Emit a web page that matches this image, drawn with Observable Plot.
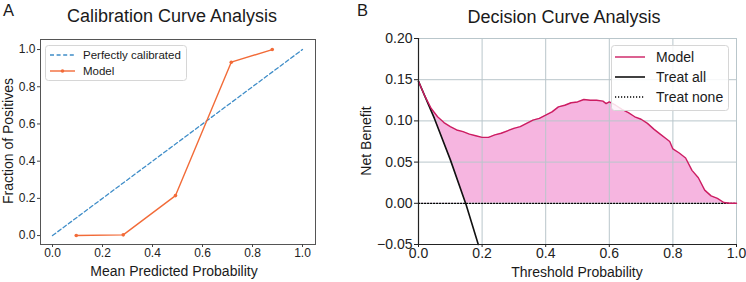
<!DOCTYPE html>
<html><head><meta charset="utf-8">
<script src="https://cdn.jsdelivr.net/npm/d3@7"></script>
<script src="https://cdn.jsdelivr.net/npm/@observablehq/plot@0.6"></script>
<style>
body{margin:0;background:#fff;}
#fig{position:relative;width:746px;height:282px;overflow:hidden;background:#fff;}
#fig svg{position:absolute;top:0;}
</style></head><body><div id="fig"></div>
<script>
// ---------- data ----------
const calibMeanPred = [0.095, 0.283, 0.492, 0.715, 0.879];
const calibFracPos  = [0.000, 0.004, 0.215, 0.932, 1.000];
const perfectX = [0, 1];
const perfectY = [0, 1];

const thresholds = [0.00,0.02,0.04,0.06,0.08,0.10,0.12,0.14,0.16,0.18,0.20,0.22,0.24,0.26,0.28,0.30,0.32,0.34,0.36,0.38,0.40,0.42,0.44,0.46,0.48,0.50,0.52,0.54,0.56,0.58,0.59,0.60,0.62,0.64,0.66,0.68,0.70,0.72,0.74,0.76,0.78,0.79,0.80,0.82,0.84,0.86,0.88,0.90,0.92,0.94,0.96,0.98,1.00];
const modelNB    = [0.148,0.130,0.115,0.105,0.098,0.093,0.089,0.087,0.084,0.082,0.080,0.080,0.083,0.085,0.088,0.091,0.093,0.097,0.101,0.103,0.107,0.111,0.117,0.119,0.122,0.123,0.126,0.125,0.125,0.124,0.121,0.123,0.119,0.114,0.110,0.105,0.102,0.097,0.090,0.084,0.078,0.075,0.066,0.061,0.055,0.040,0.031,0.016,0.009,0.006,0.001,0.000,0.000];
const treatAllT  = [0, 0.05, 0.10, 0.15, 0.188];
const treatAllNB = [0.148, 0.103, 0.053, -0.002, -0.05];
const treatNoneT  = [0, 1];
const treatNoneNB = [0, 0];

const calibTicks = [0, 0.2, 0.4, 0.6, 0.8, 1.0];
const dcaXTicks  = [0, 0.2, 0.4, 0.6, 0.8, 1.0];
const dcaYTicks  = [-0.05, 0, 0.05, 0.10, 0.15, 0.20];

// ---------- tables ----------
const calib   = calibMeanPred.map((x,i)=>({x, y: calibFracPos[i]}));
const perfect = perfectX.map((x,i)=>({x, y: perfectY[i]}));
const model   = thresholds.map((t,i)=>({t, nb: modelNB[i]}));
const treatAll = treatAllT.map((t,i)=>({t, nb: treatAllNB[i]}));
const treatNone = treatNoneT.map((t,i)=>({t, nb: treatNoneNB[i]}));

const FONT = '"Liberation Sans", Arial, Helvetica, sans-serif';
const orange = "#f26b38", blue = "#3f8dc8", crimson = "#cc1d62", pink = "#f6b5e0";
const fig = document.getElementById("fig");

// ---------- panel A ----------
const left = Plot.plot({
  width: 373, height: 282,
  marginLeft: 40, marginRight: 58, marginTop: 39, marginBottom: 38,
  x: {domain: [-0.048, 1.052]},
  y: {domain: [-0.048, 1.054]},
  style: {fontFamily: FONT, fontSize: "12px", color: "#222", background: "transparent", overflow: "visible"},
  marks: [
    Plot.line(perfect, {x: "x", y: "y", stroke: blue, strokeWidth: 1.3, strokeDasharray: "4,2.6"}),
    Plot.line(calib, {x: "x", y: "y", stroke: orange, strokeWidth: 1.4}),
    Plot.dot(calib, {x: "x", y: "y", r: 1.8, fill: orange}),
    Plot.frame({stroke: "#555", strokeWidth: 1}),
    Plot.axisX(calibTicks, {tickSize: 3, tickPadding: 1, tickFormat: d3.format(".1f"), label: null, stroke: "#444"}),
    Plot.axisY(calibTicks, {tickSize: 3, tickPadding: 2, tickFormat: d3.format(".1f"), label: null, stroke: "#444"})
  ]
});
left.style.left = "0px";
fig.appendChild(left);

// ---------- panel B ----------
const right = Plot.plot({
  width: 373, height: 282,
  marginLeft: 45, marginRight: 10, marginTop: 38, marginBottom: 38,
  x: {domain: [0, 1]},
  y: {domain: [-0.05, 0.20]},
  style: {fontFamily: FONT, fontSize: "14px", color: "#222", background: "transparent", overflow: "visible"},
  marks: [
    Plot.areaY(model, {x: "t", y: "nb", fill: pink}),
    Plot.areaY(treatAll.filter(d => d.t <= 0.15), {x: "t", y1: 0, y2: "nb", fill: "white"}),
    Plot.gridX(dcaXTicks, {stroke: "#b9c6cb", strokeOpacity: 1, strokeWidth: 1}),
    Plot.gridY(dcaYTicks, {stroke: "#b9c6cb", strokeOpacity: 1, strokeWidth: 1}),
    Plot.line(treatNone, {x: "t", y: "nb", stroke: "#000", strokeWidth: 1.3, strokeDasharray: "1.2,1.8"}),
    Plot.line(treatAll, {x: "t", y: "nb", stroke: "#111", strokeWidth: 1.6}),
    Plot.line(model, {x: "t", y: "nb", stroke: crimson, strokeWidth: 1.4}),
    Plot.ruleX([0], {stroke: "#222", strokeWidth: 1.2}),
    Plot.ruleY([-0.05], {stroke: "#222", strokeWidth: 1.2}),
    Plot.axisX(dcaXTicks, {tickSize: 3, tickPadding: 1, tickFormat: d3.format(".1f"), label: null, stroke: "#222"}),
    Plot.axisY(dcaYTicks, {tickSize: 4, tickPadding: 2, tickFormat: d => d3.format(".2f")(d).replace("-", "\u2212"), label: null, stroke: "#222"})
  ]
});
right.style.left = "373px";
fig.appendChild(right);

// ---------- overlay: titles, labels, legends ----------
const ov = d3.select(fig).append("svg")
  .attr("width", 746).attr("height", 282)
  .style("left", "0px").style("font-family", FONT).style("pointer-events", "none");

function txt(x, y, s, size, anchor = "middle", rot = 0, fill = "#1a1a1a") {
  const t = ov.append("text").attr("font-size", size).attr("text-anchor", anchor).attr("fill", fill).text(s);
  if (rot) t.attr("transform", `translate(${x},${y}) rotate(${rot})`);
  else t.attr("x", x).attr("y", y);
  return t;
}
txt(3, 16, "A", 16.5, "start");
txt(357, 16, "B", 16.5, "start");
txt(172, 22, "Calibration Curve Analysis", 18);
txt(564, 23, "Decision Curve Analysis", 18);
txt(174, 276, "Mean Predicted Probability", 14);
txt(577, 277, "Threshold Probability", 14);
txt(13, 141, "Fraction of Positives", 14, "middle", -90);
txt(371, 141, "Net Benefit", 14, "middle", -90);

// legend A
ov.append("rect").attr("x", 45.5).attr("y", 45.5).attr("width", 141).attr("height", 35).attr("rx", 3)
  .attr("fill", "rgba(255,255,255,0.85)").attr("stroke", "#d6d6d6");
ov.append("line").attr("x1", 50).attr("x2", 75).attr("y1", 55).attr("y2", 55)
  .attr("stroke", blue).attr("stroke-width", 1.3).attr("stroke-dasharray", "4,2.6");
txt(83, 59, "Perfectly calibrated", 11.5, "start");
ov.append("line").attr("x1", 50).attr("x2", 75).attr("y1", 71).attr("y2", 71)
  .attr("stroke", orange).attr("stroke-width", 1.4);
ov.append("circle").attr("cx", 62.5).attr("cy", 71).attr("r", 1.8).attr("fill", orange);
txt(83, 75, "Model", 11.5, "start");

// legend B
ov.append("rect").attr("x", 611.5).attr("y", 45.5).attr("width", 117).attr("height", 65).attr("rx", 3)
  .attr("fill", "rgba(255,255,255,0.85)").attr("stroke", "#d6d6d6");
const legB = [
  {label: "Model", stroke: crimson, dash: null, w: 1.4, y: 57},
  {label: "Treat all", stroke: "#111", dash: null, w: 1.6, y: 77},
  {label: "Treat none", stroke: "#000", dash: "1.2,1.8", w: 1.3, y: 97}
];
legB.forEach(d => {
  const l = ov.append("line").attr("x1", 615).attr("x2", 645).attr("y1", d.y).attr("y2", d.y)
    .attr("stroke", d.stroke).attr("stroke-width", d.w);
  if (d.dash) l.attr("stroke-dasharray", d.dash);
  txt(656, d.y + 5, d.label, 14, "start");
});
</script>
</body></html>
